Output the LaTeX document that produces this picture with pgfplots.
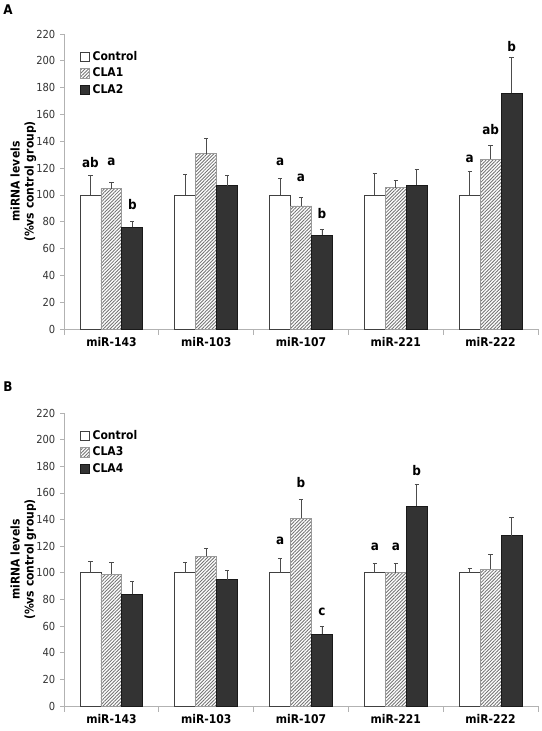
\documentclass[border=0pt]{standalone}
\usepackage{fontspec}
\setmainfont{DejaVu Sans Condensed}
\usepackage{pgfplots}
\pgfplotsset{compat=1.18}
\usepackage{pgfplotstable}
\usetikzlibrary{patterns.meta}

\pgfplotstableread{
x c ec d ed e ee
0 100 14.7 104.5 4.7 75.8 4.7
1 100 15.2 130.7 11.4 107 7.2
2 100 12 91.75 6.25 70 4
3 100 16 105.5 5 107.25 11.75
4 100 17.5 126.75 10.25 175.75 26.75
}\dataA

\pgfplotstableread{
x c ec d ed e ee
0 100 8.5 99 8.5 83.75 9.75
1 100 7.5 112.5 6 94.75 6.75
2 100 11 141 13.75 54 5.5
3 100 7.25 100 6.75 150 16.75
4 100 3.25 102.75 10.75 127.75 13.5
}\dataB

\tikzset{lett/.style={font=\bfseries\fontsize{10}{11}\selectfont}}

\pgfplotsset{
 mybase/.style={
  scale only axis, width=355.5pt,
  xmin=-0.5,xmax=4.5,ymin=0,ymax=220,
  axis x line*=bottom, axis y line*=left,
  axis line style={gray!60, line width=0.6pt},
  ytick={0,20,...,220},
  xtick={0,...,4},
  xticklabels={miR-143,miR-103,miR-107,miR-221,miR-222},
  minor xtick={-0.5,0.5,...,4.5},
  tick align=outside,
  major x tick style={draw=none},
  minor x tick style={gray!60, line width=0.6pt},
  minor tick length=4.5pt,
  major tick length=3pt,
  y tick style={gray!60, line width=0.6pt},
  xticklabel style={font=\bfseries\fontsize{9}{10}\selectfont, text=black},
  yticklabel style={font=\fontsize{8.3}{10}\selectfont, text=black!80},
  /pgf/number format/assume math mode=true,
  every axis y label/.style={at={(axis description cs:-0.086,0.5)},rotate=90,anchor=center,
     align=center, font=\bfseries\fontsize{9}{10.5}\selectfont},
  legend style={draw=none, fill=none, at={(0.03,0.955)}, anchor=north west,
    font=\bfseries\fontsize{9}{10}\selectfont, row sep=0pt, inner sep=1pt},
  legend cell align=left,
  clip=false,
 },
 mybar/.style={ybar, bar width=0.221, bar shift=0,
   legend image code/.code={\draw[##1] (0pt,-3.5pt) rectangle (7pt,3.5pt);},
   error bars/y dir=plus, error bars/y explicit,
   error bars/error bar style={black!70, line width=0.6pt},
   error bars/error mark options={rotate=90, mark size=1.6pt, black!70, line width=0.6pt}},
 ctrl/.style={mybar, fill=white, draw=black!75, line width=0.6pt},
 hatch/.style={mybar, draw=gray!80, line width=0.6pt,
   pattern={Lines[angle=45,distance=1.8pt,line width=0.65pt]}, pattern color=black!55},
 dark/.style={mybar, fill=black!80, draw=black!90, line width=0.6pt},
}

\begin{document}
\begin{tikzpicture}
\path[use as bounding box] (0,0) rectangle (406.5pt,548.25pt);
\node[lett] at (6pt,540.75pt) {A};
\node[lett] at (6pt,258pt) {B};

\begin{axis}[mybase, at={(48pt,301.5pt)}, anchor=south west, height=221.25pt,
  ylabel={miRNA levels\\(\%vs control group)}]
\addplot[ctrl] table[x expr=\thisrow{x}-0.221,y=c,y error=ec]{\dataA};
\addplot[hatch] table[x=x,y=d,y error=ed]{\dataA};
\addplot[dark] table[x expr=\thisrow{x}+0.221,y=e,y error=ee]{\dataA};
\legend{Control,CLA1,CLA2}
\node[lett] at (axis cs:-0.221,124.4) {ab};
\node[lett] at (axis cs:0,124.4) {a};
\node[lett] at (axis cs:0.221,92.8) {b};
\node[lett] at (axis cs:1.779,124.75) {a};
\node[lett] at (axis cs:2,112.5) {a};
\node[lett] at (axis cs:2.221,86) {b};
\node[lett] at (axis cs:3.779,126.75) {a};
\node[lett] at (axis cs:4,149) {ab};
\node[lett] at (axis cs:4.221,211) {b};
\end{axis}

\begin{axis}[mybase, at={(48pt,18.75pt)}, anchor=south west, height=219.75pt,
  ylabel={miRNA levels\\(\%vs control group)}]
\addplot[ctrl] table[x expr=\thisrow{x}-0.221,y=c,y error=ec]{\dataB};
\addplot[hatch] table[x=x,y=d,y error=ed]{\dataB};
\addplot[dark] table[x expr=\thisrow{x}+0.221,y=e,y error=ee]{\dataB};
\legend{Control,CLA3,CLA4}
\node[lett] at (axis cs:1.779,123.75) {a};
\node[lett] at (axis cs:2,167.5) {b};
\node[lett] at (axis cs:2.221,70.6) {c};
\node[lett] at (axis cs:2.779,119.75) {a};
\node[lett] at (axis cs:3,119.75) {a};
\node[lett] at (axis cs:3.221,176.75) {b};
\end{axis}
\end{tikzpicture}
\end{document}
